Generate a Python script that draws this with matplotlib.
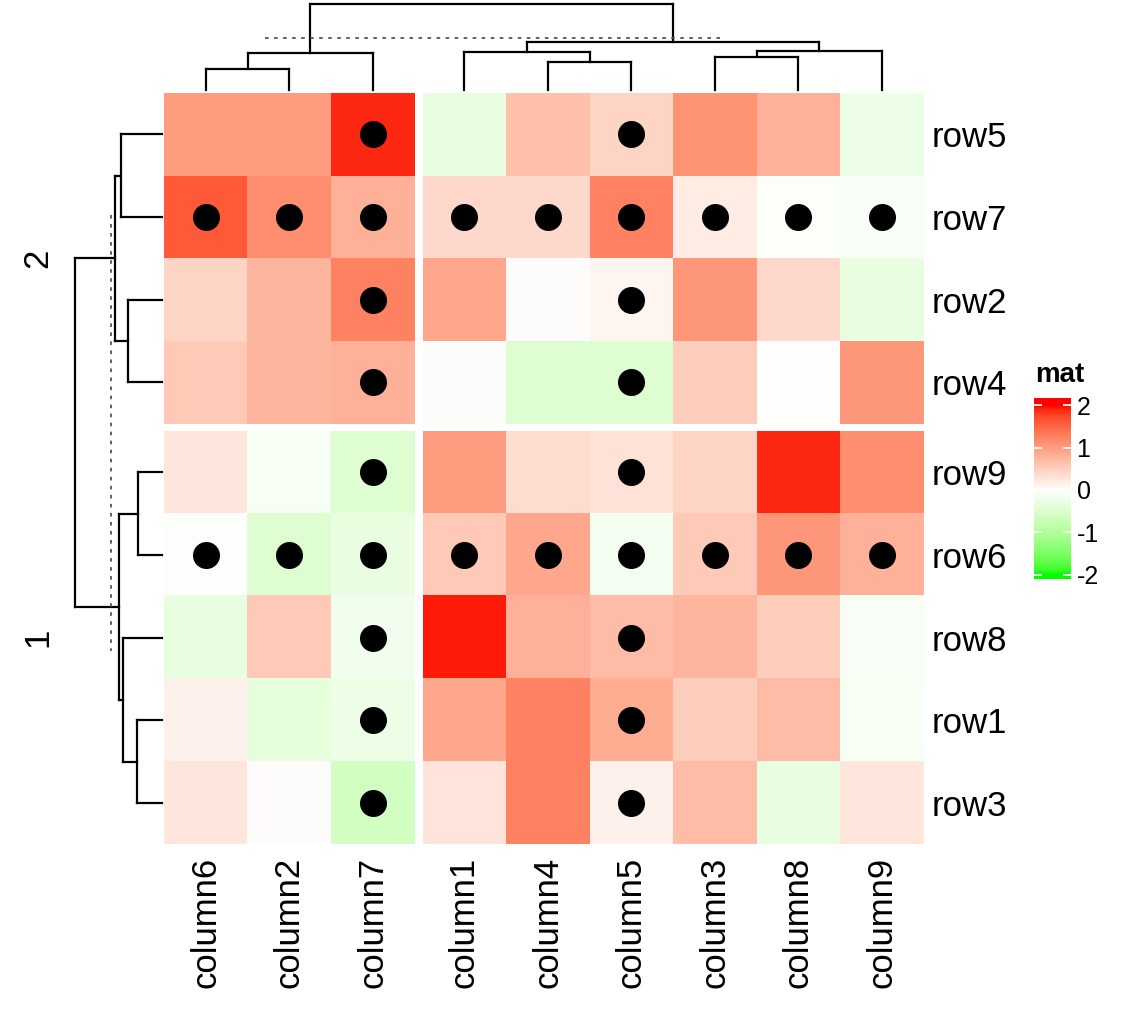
import numpy as np
import matplotlib
matplotlib.use("Agg")
import matplotlib.pyplot as plt
from matplotlib.colors import ListedColormap, Normalize

plt.rcParams['font.family'] = ['Liberation Sans', 'DejaVu Sans']

# datos en el orden mostrado (filas y columnas ya reordenadas por el clustering)
row_labels = ["row5", "row7", "row2", "row4", "row9", "row6", "row8", "row1", "row3"]
col_labels = ["column6", "column2", "column7", "column1", "column4",
              "column5", "column3", "column8", "column9"]
row_split_names = ["2", "1"]
row_split_sizes = [4, 5]
col_split_sizes = [3, 6]

values = [
    [1.00, 1.00, 1.90, -0.30, 0.65, 0.45, 1.10, 0.80, -0.25],   # row5
    [1.60, 1.15, 0.80, 0.40, 0.40, 1.25, 0.20, -0.05, -0.08],   # row7
    [0.45, 0.75, 1.25, 0.90, 0.02, 0.10, 1.05, 0.40, -0.30],    # row2
    [0.55, 0.75, 0.80, 0.02, -0.45, -0.45, 0.50, 0.00, 1.05],   # row4
    [0.25, -0.10, -0.45, 1.00, 0.35, 0.30, 0.45, 1.90, 1.15],   # row9
    [-0.04, -0.45, -0.30, 0.55, 0.90, -0.15, 0.55, 1.05, 0.80], # row6
    [-0.30, 0.55, -0.18, 1.95, 0.80, 0.70, 0.75, 0.50, -0.08],  # row8
    [0.15, -0.35, -0.25, 0.90, 1.25, 0.85, 0.50, 0.70, -0.10],  # row1
    [0.25, 0.03, -0.60, 0.28, 1.25, 0.15, 0.70, -0.30, 0.25],   # row3
]

# celdas con punto: columnas y filas completas
dot_cols = ["column7", "column5"]
dot_rows = ["row7", "row6"]

# dendrogramas: (hijo_a, hijo_b, altura), hojas en orden mostrado
col_merges = [(0, 1, 20.7), (9, 2, 37.3), (4, 5, 28.3), (3, 11, 37.7),
              (6, 7, 32.7), (13, 8, 39.3), (12, 14, 47.7), (10, 15, 86.0)]
col_cut = 52.3
row_merges = [(0, 1, 41.3), (2, 3, 33.7), (9, 10, 47.0), (4, 5, 23.7),
              (7, 8, 25.3), (6, 13, 38.7), (12, 14, 43.0), (11, 15, 87.0)]
row_cut = 51.0

legend_ticks = [-2, -1, 0, 1, 2]


# paleta verde-blanco-rojo interpolada en LAB (como colorRamp2)
def srgb_to_lab(rgb):
    rgb = np.asarray(rgb, float)
    lin = np.where(rgb <= 0.04045, rgb / 12.92, ((rgb + 0.055) / 1.055) ** 2.4)
    M = np.array([[0.4124, 0.3576, 0.1805],
                  [0.2126, 0.7152, 0.0722],
                  [0.0193, 0.1192, 0.9505]])
    xyz = M @ lin / np.array([0.95047, 1.0, 1.08883])
    f = np.where(xyz > 0.008856, np.cbrt(xyz), 7.787 * xyz + 16 / 116)
    return np.array([116 * f[1] - 16, 500 * (f[0] - f[1]), 200 * (f[1] - f[2])])


def lab_to_srgb(lab):
    L, a, b = lab
    fy = (L + 16) / 116
    fx = fy + a / 500
    fz = fy - b / 200
    f = np.array([fx, fy, fz])
    xyz = np.where(f ** 3 > 0.008856, f ** 3, (f - 16 / 116) / 7.787)
    xyz = xyz * np.array([0.95047, 1.0, 1.08883])
    Minv = np.array([[3.2406, -1.5372, -0.4986],
                     [-0.9689, 1.8758, 0.0415],
                     [0.0557, -0.2040, 1.0570]])
    lin = np.clip(Minv @ xyz, 0, 1)
    rgb = np.where(lin <= 0.0031308, 12.92 * lin, 1.055 * lin ** (1 / 2.4) - 0.055)
    return np.clip(rgb, 0, 1)


anchors = [srgb_to_lab([0, 1, 0]), srgb_to_lab([1, 1, 1]), srgb_to_lab([1, 0, 0])]
cols = []
for t in np.linspace(-2, 2, 256):
    if t < 0:
        lab = anchors[1] + (anchors[0] - anchors[1]) * (-t / 2)
    else:
        lab = anchors[1] + (anchors[2] - anchors[1]) * (t / 2)
    cols.append(lab_to_srgb(lab))
cmap = ListedColormap(cols)
norm = Normalize(-2, 2)

W, H = 1124, 1034
fig = plt.figure(figsize=(W / 100, H / 100), dpi=100)


def px_axes(x0, y0, x1, y1):
    return fig.add_axes([x0 / W, 1 - y1 / H, (x1 - x0) / W, (y1 - y0) / H])


mat = np.array(values)
hm_left, cell_w, col_gap = 164, 83.5, 8
hm_top, cell_h, row_gap = 93, 82.7, 7

col_starts = [0, col_split_sizes[0]]
row_starts = [0, row_split_sizes[0]]
for ri in range(2):
    r0 = row_starts[ri]
    nr = row_split_sizes[ri]
    y0 = hm_top + r0 * cell_h + ri * row_gap
    for ci in range(2):
        c0 = col_starts[ci]
        nc = col_split_sizes[ci]
        x0 = hm_left + c0 * cell_w + ci * col_gap
        ax = px_axes(x0, y0, x0 + nc * cell_w, y0 + nr * cell_h)
        sub = mat[r0:r0 + nr, c0:c0 + nc]
        ax.imshow(sub, cmap=cmap, norm=norm, aspect='auto', interpolation='nearest')
        xs, ys = [], []
        for i in range(nr):
            for j in range(nc):
                if col_labels[c0 + j] in dot_cols or row_labels[r0 + i] in dot_rows:
                    xs.append(j)
                    ys.append(i)
        ax.scatter(xs, ys, s=340, color='black', zorder=3)
        for s in ax.spines.values():
            s.set_visible(False)
        ax.set_xticks([])
        ax.set_yticks([])
        if ci == 1:
            ax.yaxis.tick_right()
            ax.set_yticks(range(nr))
            ax.set_yticklabels(row_labels[r0:r0 + nr], fontsize=25)
            ax.tick_params(axis='y', length=0, pad=6)
        if ri == 1:
            ax.set_xticks(range(nc))
            ax.set_xticklabels(col_labels[c0:c0 + nc], fontsize=25, rotation=90)
            ax.tick_params(axis='x', length=0, pad=9)
        ax.set_xlim(-0.5, nc - 0.5)
        ax.set_ylim(nr - 0.5, -0.5)


def draw_dendro(ax, merges, leaf_pos, vertical):
    pos = list(leaf_pos)
    hgt = [0.0] * len(leaf_pos)
    for a, b, h in merges:
        for c in (a, b):
            seg = ([pos[c], pos[c]], [hgt[c], h])
            if vertical:
                ax.plot(seg[1], seg[0], color='black', lw=1.6, clip_on=False)
            else:
                ax.plot(seg[0], seg[1], color='black', lw=1.6, clip_on=False)
        seg = ([pos[a], pos[b]], [h, h])
        if vertical:
            ax.plot(seg[1], seg[0], color='black', lw=1.6, clip_on=False)
        else:
            ax.plot(seg[0], seg[1], color='black', lw=1.6, clip_on=False)
        pos.append((pos[a] + pos[b]) / 2)
        hgt.append(h)
    ax.axis('off')


# dendrograma superior (coordenadas en unidades de celda, con hueco)
gap_c = col_gap / cell_w
col_pos = [i + 0.5 + (gap_c if i >= col_split_sizes[0] else 0) for i in range(len(col_labels))]
tot_c = len(col_labels) + gap_c
axt = px_axes(hm_left, 4, hm_left + tot_c * cell_w, 90)
draw_dendro(axt, col_merges, col_pos, vertical=False)
axt.set_xlim(0, tot_c)
axt.set_ylim(0, max(m[2] for m in col_merges))
axt.axhline(col_cut, xmin=0.133, xmax=0.732, color='#555555', lw=1.3,
            ls=(0, (2, 3)))

# dendrograma izquierdo
gap_r = row_gap / cell_h
row_pos = [i + 0.5 + (gap_r if i >= row_split_sizes[0] else 0) for i in range(len(row_labels))]
tot_r = len(row_labels) + gap_r
axl = px_axes(75, hm_top, 162, hm_top + tot_r * cell_h)
draw_dendro(axl, row_merges, row_pos, vertical=True)
axl.set_xlim(max(m[2] for m in row_merges), 0)
axl.set_ylim(tot_r, 0)
axl.axvline(row_cut, ymin=1 - (215 - hm_top) / (tot_r * cell_h),
            ymax=1 - (651 - hm_top) / (tot_r * cell_h), color='#555555', lw=1.3,
            ls=(0, (2, 3)))

# etiquetas de los grupos de filas
for k, name in enumerate(row_split_names):
    y0 = hm_top + row_starts[k] * cell_h + k * row_gap
    yc = y0 + row_split_sizes[k] * cell_h / 2
    fig.text(38 / W, 1 - yc / H, name, rotation=90, ha='center', va='center', fontsize=25)

# leyenda
lo, hi = -2.1, 2.17
cax = px_axes(1034, 398, 1071, 579)
grad = np.linspace(lo, hi, 300).reshape(-1, 1)
cax.imshow(grad, cmap=cmap, norm=norm, aspect='auto', origin='lower',
           extent=(0, 1, lo, hi))
cax.set_xlim(0, 1)
cax.set_ylim(lo, hi)
for s in cax.spines.values():
    s.set_visible(False)
cax.set_xticks([])
cax.set_yticks(legend_ticks)
cax.set_yticklabels([str(t) for t in legend_ticks], fontsize=18)
cax.yaxis.set_ticks_position('both')
cax.tick_params(axis='y', direction='in', length=6, width=1.3, color='white',
                labelleft=False, labelright=True, pad=4)
fig.text(1035 / W, 1 - 375 / H, "mat", fontsize=20, fontweight='bold', ha='left', va='center')

fig.savefig("out.png", dpi=100)
